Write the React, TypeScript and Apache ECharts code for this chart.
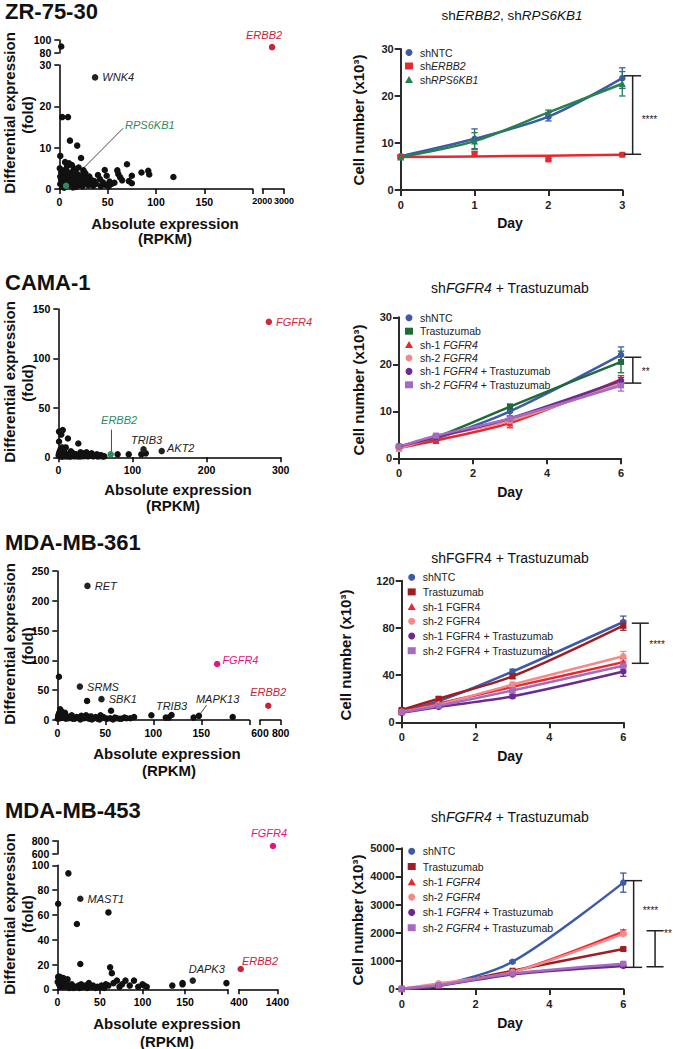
import React, { useEffect, useRef } from "react";
import * as echarts from "echarts";

const FONT = "'Liberation Sans', Arial, Helvetica, sans-serif";

// ---------------- ZR-75-30 (scatter) ----------------
const zrGenes = [
  [1, 8], [9, 17.4], [3, 17.4], [11, 11.7], [18.5, 10.5], [22.5, 7.5], [0.5, 5], [6, 6.5], [8, 5.5], [10, 6.2],
  [13, 5.8], [15, 5], [17, 4.6], [20, 5.2], [25, 4.5], [27, 3.8], [2, 4], [4, 3.5], [6, 2.8], [8, 4.2],
  [10, 3.4], [12, 4], [14, 3.2], [16, 2.6], [19, 3.5], [21, 2.9], [23, 3.3], [29, 2.5], [31, 3], [33, 2.2],
  [36, 1.9], [40, 3.4], [42, 2.4], [45, 1.6], [47, 4.6], [49, 3.2], [52, 1.8], [54, 1.2], [57, 1.5], [60, 4.5],
  [61, 3.6], [63, 2.8], [65, 2.1], [70, 6], [72, 1.9], [75, 3.2], [75, 1.4], [85, 4], [92, 4.4], [93, 3.5],
  [118, 2.9], [1, 1.2], [2, 2.2], [3, 0.6], [4, 1.6], [5, 0.3], [7, 2.1], [9, 1.1], [10, 2.5], [12, 0.8],
  [13, 1.9], [15, 1.3], [17, 0.5], [18, 2.1], [20, 1], [22, 1.6], [24, 0.7], [26, 1.3], [28, 1.9], [30, 0.9],
  [32, 1.4], [35, 0.8], [38, 1.2], [43, 0.7], [48, 1], [51, 0.6], [1, 3], [3, 2.5], [5, 4.5], [7, 3.7],
  [11, 1.7], [14, 0.4], [16, 3.9], [24, 2.3], [26, 3.5],
];
const zrHighGenes = [[2, 90]];
const zrWNK4 = [37, 27];
const zrRPS6KB1 = [7, 0.8];
const zrRPS6KB1Tag = [68, 15.6];
const zrERBB2 = [2450, 89];

// ---------------- ZR-75-30 (growth) ----------------
const zrDays = [0, 1, 2, 3];
const zrNTC = [7.2, 10.9, 15.6, 23.8];
const zrNTCsd = [0.3, 2.1, 0.9, 2.2];
const zrShERBB2 = [7.0, 7.7, 6.5, 7.5];
const zrShERBB2sd = [0.2, 0.4, 0.2, 0.2];
const zrShERBB2fit = [7.0, 7.15, 7.3, 7.5];
const zrShRPS = [7.0, 10.4, 16.5, 22.6];
const zrShRPSsd = [0.3, 1.8, 0.5, 2.6];
const zrBracket = [3.14, 24.3, 7.6, 15.5];

// ---------------- CAMA-1 (scatter) ----------------
const camaGenes = [
  [1, 26], [6, 27.5], [4, 23], [1, 16], [13, 19], [27, 14], [10, 10], [3, 8], [6, 6], [17, 6],
  [20, 4], [24, 3], [30, 5], [33, 4], [38, 5], [42, 3], [45, 4], [48, 2], [52, 3], [55, 2],
  [58, 2], [62, 1], [80, 3], [95, 3], [112, 3], [118, 4], [0.5, 2], [1, 4], [2, 1], [3, 3],
  [5, 0.5], [7, 2], [8, 4], [9, 1], [11, 2.5], [12, 0.8], [14, 3], [15, 1.5], [16, 0.5], [19, 2],
  [21, 1], [22, 2.5], [25, 1], [26, 2], [28, 0.8], [29, 2], [31, 1], [32, 2.5], [35, 1.2], [36, 3],
  [40, 1], [44, 2], [47, 1], [50, 1.5], [53, 0.8], [56, 1.2], [60, 0.8], [2, 6], [5, 10], [8, 7],
];
const camaTRIB3 = [115, 8];
const camaAKT2 = [139.5, 6.3];
const camaERBB2 = [70.7, 3];
const camaERBB2Tag = [82, 37.5];
const camaFGFR4 = [284, 137];

// ---------------- CAMA-1 (growth) ----------------
const d6 = [0, 1, 3, 6];
const camaNTC = [2.5, 4.2, 10, 22];
const camaNTCsd = [0.3, 0.5, 1, 1.7];
const camaTras = [2.5, 4.5, 11, 20.5];
const camaTrasSd = [0.3, 0.5, 0.5, 2.3];
const camaSh1 = [2.2, 3.8, 7.5, 16.8];
const camaSh1sd = [0.2, 0.3, 1, 0.8];
const camaSh2 = [2.0, 4.5, 8.0, 16.0];
const camaSh2sd = [0.2, 0.5, 0.6, 0.8];
const camaSh1T = [2.5, 4.5, 8.5, 16.5];
const camaSh1Tsd = [0.2, 0.5, 0.5, 0.7];
const camaSh2T = [2.5, 4.8, 8.5, 15.5];
const camaSh2Tsd = [0.2, 0.5, 0.6, 1.2];
const camaBracket = [6.32, 21.5, 16, 18.8];

// ---------------- MDA-MB-361 (scatter) ----------------
const m361Genes = [
  [31, 32], [56, 15.6], [1.7, 72.6], [98, 8], [113, 4], [116, 4], [142, 4], [182.7, 5], [80, 5], [76, 3],
  [70, 4], [65, 2], [60, 4], [50, 3], [45, 8], [40, 5], [35, 6], [30, 8], [25, 7], [20, 5],
  [15, 8], [10, 6], [5, 10], [3, 18], [2, 12], [1, 5], [4, 15], [8, 12], [6, 4], [12, 3],
  [18, 2], [22, 4], [28, 3], [33, 2], [38, 3], [42, 2], [48, 5], [52, 2], [55, 3], [62, 3],
  [67, 2], [72, 3], [0.5, 2], [1, 8], [3, 3], [7, 7], [9, 2], [14, 4], [16, 2], [24, 1],
  [27, 5], [36, 1], [44, 1], [58, 1], [119, 8.4],
];
const m361RET = [31.4, 225];
const m361SRMS = [23.5, 56];
const m361SBK1 = [46, 35];
const m361TRIB3Tag = [119, 23.5];
const m361MAPK13 = [147.5, 7];
const m361MAPK13Tag = [167, 35];
const m361FGFR4 = [166.5, 94];
const m361ERBB2 = [680, 24];

// ---------------- MDA-MB-361 (growth) ----------------
const m361NTC = [10, 18, 43, 85];
const m361NTCsd = [1, 1, 2, 5];
const m361Tras = [10.5, 20, 39, 82];
const m361TrasSd = [1, 1.5, 2, 4];
const m361Sh1 = [9, 16, 30, 51];
const m361Sh1sd = [1, 1, 2, 3];
const m361Sh2 = [9, 15, 32, 56];
const m361Sh2sd = [1, 1, 2, 4];
const m361Sh1T = [8, 13, 22, 43];
const m361Sh1Tsd = [1, 1, 1.5, 4];
const m361Sh2T = [8.5, 14, 27, 48];
const m361Sh2Tsd = [1, 1, 2, 3];
const m361Bracket = [6.46, 84, 50, 68];

// ---------------- MDA-MB-453 (scatter) ----------------
const m453Genes = [
  [1, 69], [13, 93.5], [23, 52.7], [60, 62], [27, 20.4], [62, 17.7], [64, 13], [198.5, 5], [135, 3], [147, 5],
  [147, 4], [100, 4], [102, 3], [90, 7], [80, 7], [76, 4], [70, 7], [66, 5], [57, 4], [52, 3],
  [47, 2], [42, 3], [37, 5], [33, 3], [28, 4], [25, 3], [20, 2], [15, 3], [12, 8], [10, 5],
  [6, 6], [3, 10], [1, 10], [2, 4], [4, 2], [5, 3], [8, 2], [11, 3], [14, 1], [17, 4],
  [19, 1], [22, 2], [26, 1], [30, 2], [35, 1], [40, 2], [45, 1], [50, 2], [55, 1], [60, 3],
  [73, 2], [85, 3], [95, 2], [105, 2], [0.5, 6], [7, 9], [9, 4],
];
const m453MAST1 = [27, 73];
const m453DAPK3 = [159, 7];
const m453ERBB2 = [445, 16.4];
const m453FGFR4 = [1287, 720];

// ---------------- MDA-MB-453 (growth) ----------------
const m453NTC = [10, 120, 970, 3780];
const m453NTCsd = [5, 20, 40, 340];
const m453Tras = [10, 120, 650, 1420];
const m453TrasSd = [5, 20, 30, 50];
const m453Sh1 = [10, 150, 600, 2040];
const m453Sh1sd = [5, 20, 30, 60];
const m453Sh2 = [10, 200, 600, 1960];
const m453Sh2sd = [5, 30, 30, 60];
const m453Sh1T = [10, 110, 520, 820];
const m453Sh1Tsd = [5, 20, 30, 40];
const m453Sh2T = [10, 130, 550, 900];
const m453Sh2Tsd = [5, 20, 30, 40];
const m453Bracket1 = [6.28, 3850, 770, 2870];
const m453Bracket2 = [6.86, 2070, 790, 2030];

// ---------------- styling ----------------
const C = {
  blue: "#3d5aa8",
  red: "#e8282e",
  green: "#23834b",
  dgreen: "#1e6b38",
  pink: "#f28b8b",
  purple: "#6a2c8e",
  lpurple: "#a66bbf",
  dred: "#a11d22",
  black: "#111111",
  geneGreen: "#2f8a5d",
  geneRed: "#c3263a",
  magenta: "#e2167e",
};

// grid rectangles: [left, top, width, height]
const GRIDS = [
  [59.3, 65, 193.4, 124], // 0 ZR lower-left
  [59.3, 40, 193.4, 13], // 1 ZR upper-left
  [262.3, 65, 21.7, 124], // 2 ZR lower-right
  [262.3, 40, 21.7, 13], // 3 ZR upper-right
  [400.7, 49, 221.6, 141], // 4 ZR growth
  [58.3, 309, 222.4, 148.3], // 5 CAMA scatter
  [399, 317.3, 222, 141], // 6 CAMA growth
  [57.3, 571, 192, 149], // 7 361 left
  [260, 571, 20.7, 149], // 8 361 right
  [401.7, 580.7, 221.6, 141.6], // 9 361 growth
  [57.3, 865.3, 170.4, 124], // 10 453 lower-left
  [57.3, 840.7, 170.4, 13.3], // 11 453 upper-left
  [239, 865.3, 38.3, 124], // 12 453 lower-right
  [239, 840.7, 38.3, 13.3], // 13 453 upper-right
  [401.7, 848.3, 221.6, 140.7], // 14 453 growth
];

type Ax = { min: number; max: number; interval: number; show: boolean; hideMax?: boolean; fs?: number };

function leftAxis(gi: number, a: Ax, dim: "x" | "y") {
  return {
    type: "value",
    gridIndex: gi,
    min: a.min,
    max: a.max,
    interval: a.interval,
    show: a.show,
    axisLine: { show: true, onZero: false, lineStyle: { color: "#000", width: 1.5 } },
    axisTick: { show: true, inside: false, length: 5, lineStyle: { color: "#000", width: 1.5 } },
    axisLabel: {
      show: true,
      showMinLabel: true,
      showMaxLabel: true,
      hideOverlap: false,
      margin: dim === "x" ? 7 : 8,
      color: "#000",
      fontWeight: "bold",
      fontSize: a.fs || 10.5,
      fontFamily: FONT,
      formatter: (v: number) => (a.hideMax && v === a.max ? "" : String(v)),
    },
    splitLine: { show: false },
  };
}

function rightAxis(gi: number, a: Ax, dim: "x" | "y") {
  return {
    type: "value",
    gridIndex: gi,
    min: a.min,
    max: a.max,
    interval: a.interval,
    show: a.show,
    axisLine: { show: true, onZero: false, lineStyle: { color: "#2b2b2b", width: 2 } },
    axisTick: { show: true, inside: false, length: 6, lineStyle: { color: "#2b2b2b", width: 2 } },
    axisLabel: {
      show: true,
      showMinLabel: true,
      showMaxLabel: true,
      margin: dim === "x" ? 9 : 7,
      color: "#222",
      fontWeight: "bold",
      fontSize: 11,
      fontFamily: FONT,
      formatter: (v: number) => String(v),
    },
    splitLine: { show: false },
  };
}

const xAxes: any[] = [
  leftAxis(0, { min: 0, max: 200, interval: 50, show: true, hideMax: true }, "x"),
  leftAxis(1, { min: 0, max: 200, interval: 50, show: false }, "x"),
  leftAxis(2, { min: 2000, max: 3000, interval: 1000, show: true, fs: 9 }, "x"),
  leftAxis(3, { min: 2000, max: 3000, interval: 1000, show: false }, "x"),
  rightAxis(4, { min: 0, max: 3, interval: 1, show: true }, "x"),
  leftAxis(5, { min: 0, max: 300, interval: 100, show: true }, "x"),
  rightAxis(6, { min: 0, max: 6, interval: 2, show: true }, "x"),
  leftAxis(7, { min: 0, max: 200, interval: 50, show: true, hideMax: true }, "x"),
  leftAxis(8, { min: 600, max: 800, interval: 200, show: true }, "x"),
  rightAxis(9, { min: 0, max: 6, interval: 2, show: true }, "x"),
  leftAxis(10, { min: 0, max: 200, interval: 50, show: true, hideMax: true }, "x"),
  leftAxis(11, { min: 0, max: 200, interval: 50, show: false }, "x"),
  leftAxis(12, { min: 400, max: 1400, interval: 1000, show: true }, "x"),
  leftAxis(13, { min: 400, max: 1400, interval: 1000, show: false }, "x"),
  rightAxis(14, { min: 0, max: 6, interval: 2, show: true }, "x"),
];

const yAxes: any[] = [
  leftAxis(0, { min: 0, max: 30, interval: 10, show: true }, "y"),
  leftAxis(1, { min: 80, max: 100, interval: 20, show: true }, "y"),
  leftAxis(2, { min: 0, max: 30, interval: 10, show: false }, "y"),
  leftAxis(3, { min: 80, max: 100, interval: 20, show: false }, "y"),
  rightAxis(4, { min: 0, max: 30, interval: 10, show: true }, "y"),
  leftAxis(5, { min: 0, max: 150, interval: 50, show: true }, "y"),
  rightAxis(6, { min: 0, max: 30, interval: 10, show: true }, "y"),
  leftAxis(7, { min: 0, max: 250, interval: 50, show: true }, "y"),
  leftAxis(8, { min: 0, max: 250, interval: 50, show: false }, "y"),
  rightAxis(9, { min: 0, max: 120, interval: 40, show: true }, "y"),
  leftAxis(10, { min: 0, max: 100, interval: 20, show: true }, "y"),
  leftAxis(11, { min: 600, max: 800, interval: 200, show: true }, "y"),
  leftAxis(12, { min: 0, max: 100, interval: 20, show: false }, "y"),
  leftAxis(13, { min: 600, max: 800, interval: 200, show: false }, "y"),
  rightAxis(14, { min: 0, max: 5000, interval: 1000, show: true }, "y"),
];

const series: any[] = [];

function dots(gi: number, pts: number[][], color: string, z = 3) {
  series.push({
    type: "scatter",
    xAxisIndex: gi,
    yAxisIndex: gi,
    data: pts,
    symbol: "circle",
    symbolSize: 6.5,
    itemStyle: { color, opacity: 1 },
    clip: false,
    silent: true,
    z,
  });
}

function gene(
  gi: number,
  pt: number[],
  name: string,
  color: string,
  position: any,
  extra: any = {},
  size = 6.5
) {
  series.push({
    type: "scatter",
    xAxisIndex: gi,
    yAxisIndex: gi,
    data: [pt],
    symbol: "circle",
    symbolSize: size,
    itemStyle: { color, opacity: 1 },
    clip: false,
    silent: true,
    z: 5,
    label: {
      show: !!name,
      formatter: name,
      position,
      distance: 4,
      color,
      fontStyle: "italic",
      fontSize: 11,
      fontFamily: FONT,
      ...extra,
    },
  });
}

function leader(gi: number, a: number[], b: number[]) {
  series.push({
    type: "line",
    xAxisIndex: gi,
    yAxisIndex: gi,
    data: [a, b],
    symbol: "none",
    lineStyle: { color: "#333", width: 0.9 },
    silent: true,
    clip: false,
    z: 2,
  });
}

// ---- scatter panels ----
dots(0, zrGenes, C.black);
dots(1, zrHighGenes, C.black);
leader(0, zrRPS6KB1, [zrRPS6KB1Tag[0] - 2, zrRPS6KB1Tag[1] - 0.9]);
gene(0, zrWNK4, "WNK4", "#222", "right");
gene(0, zrRPS6KB1, "", C.geneGreen, "right");
gene(0, zrRPS6KB1Tag, "RPS6KB1", C.geneGreen, "right", { distance: 0 }, 0);
gene(3, zrERBB2, "ERBB2", C.geneRed, "top", { offset: [-8, 0], distance: 3 });

dots(5, camaGenes, C.black);
leader(5, [camaERBB2[0] + 1, 5.5], [camaERBB2[0] + 1, 28]);
gene(5, camaERBB2, "", C.geneGreen, "right");
gene(5, camaERBB2Tag, "ERBB2", C.geneGreen, "inside", {}, 0);
gene(5, camaTRIB3, "TRIB3", "#222", "top", { distance: 1, offset: [3, 0] });
gene(5, camaAKT2, "AKT2", "#222", "right", { distance: 2, offset: [0, -3] });
gene(5, camaFGFR4, "FGFR4", "#d0283c", "right", { distance: 4 });

dots(7, m361Genes, C.black);
leader(7, m361MAPK13, [m361MAPK13[0] + 8, 25]);
gene(7, m361RET, "RET", "#222", "right");
gene(7, m361SRMS, "SRMS", "#222", "right");
gene(7, m361SBK1, "SBK1", "#222", "right");
gene(7, m361TRIB3Tag, "TRIB3", "#222", "inside", {}, 0);
gene(7, m361MAPK13, "", C.black, "right");
gene(7, m361MAPK13Tag, "MAPK13", "#222", "inside", {}, 0);
gene(7, m361FGFR4, "FGFR4", C.magenta, "right", { distance: 2, offset: [0, -4] });
gene(8, m361ERBB2, "ERBB2", C.geneRed, "top", { distance: 5 });

dots(10, m453Genes, C.black);
gene(10, m453MAST1, "MAST1", "#222", "right");
gene(10, m453DAPK3, "DAPK3", "#222", "top", { distance: 3, offset: [14, 0] });
gene(12, m453ERBB2, "ERBB2", C.geneRed, "right", { distance: 0, offset: [-2, -8] });
gene(13, m453FGFR4, "FGFR4", C.magenta, "top", { distance: 4, offset: [-4, 0] });

// ---- growth panels ----
type Grp = { key: string; label: string; mean: number[]; sd: number[]; fit?: number[]; color: string; symbol: string; size: number };
const LABELS: Record<string, string> = {};
const ICONS: Record<string, string> = {};

function errRender(color: string) {
  return (_p: any, api: any) => {
    const x = api.value(0);
    const lo = api.coord([x, api.value(1)]);
    const hi = api.coord([x, api.value(2)]);
    const w = 3.2;
    const st = { stroke: color, lineWidth: 1.3 };
    return {
      type: "group",
      children: [
        { type: "line", shape: { x1: lo[0], y1: lo[1], x2: hi[0], y2: hi[1] }, style: st },
        { type: "line", shape: { x1: lo[0] - w, y1: lo[1], x2: lo[0] + w, y2: lo[1] }, style: st },
        { type: "line", shape: { x1: hi[0] - w, y1: hi[1], x2: hi[0] + w, y2: hi[1] }, style: st },
      ],
    };
  };
}

function growth(gi: number, days: number[], groups: Grp[]) {
  for (const g of groups) {
    const f = g.fit || g.mean;
    series.push({
      type: "line",
      xAxisIndex: gi,
      yAxisIndex: gi,
      data: days.map((d, i) => [d, f[i]]),
      smooth: 0.3,
      symbol: "none",
      lineStyle: { color: g.color, width: 2.5 },
      silent: true,
      clip: false,
      z: 2,
    });
  }
  for (const g of groups) {
    series.push({
      type: "custom",
      xAxisIndex: gi,
      yAxisIndex: gi,
      data: days.map((d, i) => [d, g.mean[i] - g.sd[i], g.mean[i] + g.sd[i]]),
      encode: { x: 0, y: [1, 2] },
      itemStyle: { color: g.color },
      renderItem: errRender(g.color),
      silent: true,
      z: 3,
    });
  }
  for (const g of groups) {
    LABELS[g.key] = g.label;
    ICONS[g.key] = g.symbol;
    series.push({
      type: "scatter",
      name: g.key,
      xAxisIndex: gi,
      yAxisIndex: gi,
      data: days.map((d, i) => [d, g.mean[i]]),
      symbol: g.symbol,
      symbolSize: g.size,
      itemStyle: { color: g.color, opacity: 1 },
      clip: false,
      silent: true,
      z: 4,
    });
  }
}

function bracket(gi: number, b: number[], stars: string) {
  series.push({
    type: "custom",
    xAxisIndex: gi,
    yAxisIndex: gi,
    data: [b],
    encode: { x: 0, y: [1, 2] },
    itemStyle: { color: "#222" },
    silent: true,
    z: 5,
    renderItem: (_p: any, api: any) => {
      const x = api.value(0);
      const t = api.coord([x, api.value(1)]);
      const bt = api.coord([x, api.value(2)]);
      const s = api.coord([x, api.value(3)]);
      const w = 8.5;
      const st = { stroke: "#222", lineWidth: 1.5 };
      return {
        type: "group",
        children: [
          { type: "line", shape: { x1: t[0], y1: t[1], x2: bt[0], y2: bt[1] }, style: st },
          { type: "line", shape: { x1: t[0] - w, y1: t[1], x2: t[0] + w, y2: t[1] }, style: st },
          { type: "line", shape: { x1: bt[0] - w, y1: bt[1], x2: bt[0] + w, y2: bt[1] }, style: st },
          {
            type: "text",
            style: {
              text: stars,
              x: t[0] + 9,
              y: s[1] + 2,
              align: "left",
              verticalAlign: "middle",
              fontSize: 10,
              fontFamily: FONT,
              fill: "#222",
            },
          },
        ],
      };
    },
  });
}

growth(4, zrDays, [
  { key: "zr|shNTC", label: "shNTC", mean: zrNTC, sd: zrNTCsd, color: C.blue, symbol: "circle", size: 6.5 },
  { key: "zr|shERBB2", label: "sh{i|ERBB2}", mean: zrShERBB2, sd: zrShERBB2sd, fit: zrShERBB2fit, color: C.red, symbol: "rect", size: 6 },
  { key: "zr|shRPS6KB1", label: "sh{i|RPS6KB1}", mean: zrShRPS, sd: zrShRPSsd, color: C.green, symbol: "triangle", size: 7 },
]);
bracket(4, zrBracket, "****");

growth(6, d6, [
  { key: "cama|shNTC", label: "shNTC", mean: camaNTC, sd: camaNTCsd, color: C.blue, symbol: "circle", size: 6.5 },
  { key: "cama|tras", label: "Trastuzumab", mean: camaTras, sd: camaTrasSd, color: C.dgreen, symbol: "rect", size: 6 },
  { key: "cama|sh1", label: "sh-1 {i|FGFR4}", mean: camaSh1, sd: camaSh1sd, color: C.red, symbol: "triangle", size: 7 },
  { key: "cama|sh2", label: "sh-2 {i|FGFR4}", mean: camaSh2, sd: camaSh2sd, color: C.pink, symbol: "circle", size: 6.5 },
  { key: "cama|sh1T", label: "sh-1 {i|FGFR4} + Trastuzumab", mean: camaSh1T, sd: camaSh1Tsd, color: C.purple, symbol: "circle", size: 6.5 },
  { key: "cama|sh2T", label: "sh-2 {i|FGFR4} + Trastuzumab", mean: camaSh2T, sd: camaSh2Tsd, color: C.lpurple, symbol: "rect", size: 6 },
]);
bracket(6, camaBracket, "**");

growth(9, d6, [
  { key: "361|shNTC", label: "shNTC", mean: m361NTC, sd: m361NTCsd, color: C.blue, symbol: "circle", size: 6.5 },
  { key: "361|tras", label: "Trastuzumab", mean: m361Tras, sd: m361TrasSd, color: C.dred, symbol: "rect", size: 6 },
  { key: "361|sh1", label: "sh-1 FGFR4", mean: m361Sh1, sd: m361Sh1sd, color: C.red, symbol: "triangle", size: 7 },
  { key: "361|sh2", label: "sh-2 FGFR4", mean: m361Sh2, sd: m361Sh2sd, color: C.pink, symbol: "circle", size: 6.5 },
  { key: "361|sh1T", label: "sh-1 FGFR4 + Trastuzumab", mean: m361Sh1T, sd: m361Sh1Tsd, color: C.purple, symbol: "circle", size: 6.5 },
  { key: "361|sh2T", label: "sh-2 FGFR4 + Trastuzumab", mean: m361Sh2T, sd: m361Sh2Tsd, color: C.lpurple, symbol: "rect", size: 6 },
]);
bracket(9, m361Bracket, "****");

growth(14, d6, [
  { key: "453|shNTC", label: "shNTC", mean: m453NTC, sd: m453NTCsd, color: C.blue, symbol: "circle", size: 6.5 },
  { key: "453|tras", label: "Trastuzumab", mean: m453Tras, sd: m453TrasSd, color: C.dred, symbol: "rect", size: 6 },
  { key: "453|sh1", label: "sh-1 {i|FGFR4}", mean: m453Sh1, sd: m453Sh1sd, color: C.red, symbol: "triangle", size: 7 },
  { key: "453|sh2", label: "sh-2 {i|FGFR4}", mean: m453Sh2, sd: m453Sh2sd, color: C.pink, symbol: "circle", size: 6.5 },
  { key: "453|sh1T", label: "sh-1 {i|FGFR4} + Trastuzumab", mean: m453Sh1T, sd: m453Sh1Tsd, color: C.purple, symbol: "circle", size: 6.5 },
  { key: "453|sh2T", label: "sh-2 {i|FGFR4} + Trastuzumab", mean: m453Sh2T, sd: m453Sh2Tsd, color: C.lpurple, symbol: "rect", size: 6 },
]);
bracket(14, m453Bracket1, "****");
bracket(14, m453Bracket2, "**");

function legend(prefix: string, left: number, top: number, gap: number) {
  const names = Object.keys(LABELS).filter((k) => k.startsWith(prefix + "|"));
  return {
    orient: "vertical",
    left,
    top,
    itemGap: gap,
    itemWidth: 8,
    itemHeight: 7,
    padding: 0,
    selectedMode: false,
    data: names.map((n) => ({ name: n, icon: ICONS[n] })),
    formatter: (n: string) => LABELS[n],
    textStyle: {
      fontFamily: FONT,
      fontSize: 10.5,
      color: "#222",
      lineHeight: 10,
      padding: [0, 0, 0, 2],
      rich: { i: { fontStyle: "italic", fontFamily: FONT, fontSize: 10.5, color: "#222", lineHeight: 10 } },
    },
  };
}

// ---- free texts ----
const graphics: any[] = [];
function txt(x: number, y: number, text: string, o: any = {}) {
  graphics.push({
    type: "text",
    x,
    y,
    rotation: o.rot || 0,
    silent: true,
    style: {
      text,
      align: o.align || "center",
      verticalAlign: "middle",
      fontFamily: FONT,
      fontSize: o.size || 15,
      fontWeight: o.weight || "bold",
      fill: o.fill || "#111",
      rich: o.rich,
    },
  });
}
const R = Math.PI / 2;
const italicRich = (size: number) => ({ i: { fontStyle: "italic", fontFamily: FONT, fontSize: size, fill: "#111" } });

txt(5, 11.5, "ZR-75-30", { size: 22, align: "left" });
txt(5, 282.5, "CAMA-1", { size: 22, align: "left" });
txt(5, 542.5, "MDA-MB-361", { size: 22, align: "left" });
txt(5, 810.5, "MDA-MB-453", { size: 22, align: "left" });

const yTitleLeft: [number, number][] = [[113, 115], [382, 383], [644, 646], [914, 914]];
for (const [a, b] of yTitleLeft) {
  txt(9, a, "Differential expression", { rot: R });
  txt(27, b, "(fold)", { rot: R });
}
const xTitleLeft: [number, number, number, number][] = [
  [165, 223.3, 165, 238.8],
  [178, 489, 173, 505],
  [167, 753.3, 169, 770],
  [167, 1023, 167, 1041],
];
for (const [x1, y1, x2, y2] of xTitleLeft) {
  txt(x1, y1, "Absolute expression");
  txt(x2, y2, "(RPKM)");
}

txt(512, 15, "sh{i|ERBB2}, sh{i|RPS6KB1}", { size: 13.5, weight: "normal", rich: italicRich(13.5) });
txt(510, 288, "sh{i|FGFR4} + Trastuzumab", { size: 14, weight: "normal", rich: italicRich(14) });
txt(510, 558, "shFGFR4 + Trastuzumab", { size: 14, weight: "normal" });
txt(510, 817, "sh{i|FGFR4} + Trastuzumab", { size: 14, weight: "normal", rich: italicRich(14) });

const yTitleRight: [number, number][] = [[358, 120], [358, 390], [345, 655], [357, 920]];
for (const [x, y] of yTitleRight) txt(x, y, "Cell number (x10³)", { rot: R });
for (const y of [223.3, 492, 756, 1023.3]) txt(510, y, "Day", { size: 14 });

const option: any = {
  animation: false,
  backgroundColor: "#ffffff",
  textStyle: { fontFamily: FONT },
  grid: GRIDS.map(([left, top, width, height]) => ({ left, top, width, height, containLabel: false, outerBoundsMode: "none" })),
  xAxis: xAxes,
  yAxis: yAxes,
  legend: [legend("zr", 405, 47, 2.5), legend("cama", 405, 312.3, 2.4), legend("361", 407.7, 571.7, 3.7), legend("453", 407.7, 845.7, 4.3)],
  series,
  graphic: graphics,
};

export default function App() {
  const ref = useRef<HTMLDivElement>(null);
  useEffect(() => {
    if (!ref.current) return;
    const chart = echarts.init(ref.current, null, { renderer: "svg" });
    chart.setOption(option);
    return () => chart.dispose();
  }, []);
  return <div ref={ref} style={{ position: "absolute", left: 0, top: 0, width: 675, height: 1049, background: "#fff" }} />;
}
